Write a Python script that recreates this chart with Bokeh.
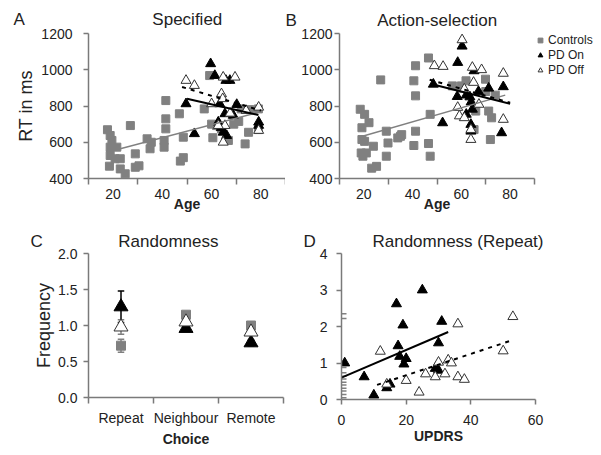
from bokeh.plotting import figure
from bokeh.models import (FixedTicker, Legend, LegendItem, NumeralTickFormatter, Range1d)
from bokeh.layouts import row, column
from bokeh.embed import file_html
from bokeh.resources import INLINE

# ---------------- data ----------------
# Panel A (Specified): age vs RT (ms)
a_ctrl_age = [17.7, 18.8, 19.5, 18.8, 21.5, 18.8, 18.5, 20.8, 22.9, 22.9, 24.9, 27, 29, 29, 30.5,
              33.8, 35, 35.5, 40.7, 40.7, 41.4, 41.4, 41.4, 46.9, 47.3, 48.5, 48.5, 57, 59.2, 60,
              62, 64, 66.8, 69, 71, 72, 73.6, 75, 75.5, 79, 79, 60.5]
a_ctrl_rt = [669, 637, 610, 573, 573, 527, 468, 509, 509, 453, 426, 692, 536, 462, 470,
             619, 564, 600, 610, 573, 729, 674, 830, 757, 496, 515, 628, 784, 968, 700,
             692, 673, 610, 700, 715, 784, 591, 655, 780, 784, 670, 625]
a_on_age = [59.6, 61.3, 67.4, 65.8, 49.6, 53, 63.3, 70.2, 68.8, 62.7, 65.4, 64.7, 66.1, 63.9, 79.1, 79.1]
a_on_rt = [1033, 968, 941, 941, 812, 647, 812, 808, 748, 711, 757, 655, 637, 680, 711, 693]
a_off_age = [49.6, 53, 64.7, 69.5, 64, 64.5, 60, 79.1, 74, 65.4, 62.7, 64.7, 79.1, 67.5]
a_off_rt = [941, 913, 959, 959, 867, 840, 812, 793, 775, 692, 692, 600, 665, 760]
a_fit_ctrl_x = [17.5, 79]
a_fit_ctrl_y = [545, 765]
a_fit_on_x = [50, 79]
a_fit_on_y = [840, 750]
a_fit_off_x = [48, 80]
a_fit_off_y = [905, 775]

# Panel B (Action-selection)
b_ctrl_age = [18.5, 20.3, 19.2, 22.1, 19.2, 20.3, 18.9, 19.6, 21, 23.9, 23.2, 25.2, 26.9, 29.2, 29.9,
              29.2, 33.9, 35, 35.5, 40.5, 41.2, 41.2, 41.2, 40.5, 46.5, 46.5, 47.2, 47.2, 56.3, 61.9,
              60, 65.9, 65.2, 69.9, 70, 71.2, 72.4, 73.9, 71.9]
b_ctrl_rt = [782, 754, 680, 708, 615, 605, 541, 523, 541, 578, 457, 467, 944, 661, 596,
             523, 624, 633, 642, 939, 1022, 856, 661, 582, 1065, 593, 754, 523, 911, 939,
             911, 772, 670, 948, 880, 772, 735, 860, 615]
b_on_age = [60.3, 58.5, 65.2, 48.5, 52.3, 58.3, 62, 63.5, 64, 64.5, 62, 63.9, 63.9, 71.2, 77.2, 76.5, 67]
b_on_rt = [1130, 1040, 994, 920, 707, 852, 860, 850, 822, 782, 754, 698, 661, 898, 906, 652, 880]
b_off_age = [60.3, 48.9, 52.5, 64.5, 68.3, 65, 77.2, 61.2, 58.5, 59.2, 61.2, 67.2, 63.9, 63.9, 77.2]
b_off_rt = [1165, 1022, 1018, 1013, 1000, 930, 980, 893, 792, 745, 735, 809, 670, 615, 726]
b_fit_ctrl_x = [18, 78]
b_fit_ctrl_y = [628, 860]
b_fit_on_x = [48, 80]
b_fit_on_y = [920, 812]
b_fit_off_x = [47, 80]
b_fit_off_y = [945, 818]

# Panel C (Randomness)
choices = ["Repeat", "Neighbour", "Remote"]
c_ctrl = [0.72, 1.15, 1.00]
c_ctrl_err = [0.09, 0.03, 0.03]
c_on = [1.26, 0.96, 0.76]
c_on_err = [0.22, 0.03, 0.04]
c_off = [0.98, 1.05, 0.91]
c_off_err = [0.10, 0.04, 0.03]

# Panel D (Randomness (Repeat)) : UPDRS vs frequency
d_ctrl_updrs = [0, 0, 0, 0, 0, 0, 0, 0, 0, 0, 0, 0]
d_ctrl_freq = [0.05, 0.14, 0.23, 0.31, 0.4, 0.47, 0.56, 0.64, 0.73, 0.88, 2.22, 2.35]
d_on_updrs = [1, 7, 10, 14, 15, 17, 17.5, 18, 19, 19.3, 20, 25, 29, 30, 30, 31]
d_on_freq = [1.0, 0.62, 0.12, 0.32, 0.42, 2.62, 1.47, 1.18, 2.04, 0.97, 1.12, 3.0, 0.85, 0.8, 1.55, 2.14]
d_off_updrs = [12, 14, 20, 24, 26, 29, 30, 32, 33, 34, 36, 36, 38, 50, 53]
d_off_freq = [1.32, 0.42, 0.52, 0.2, 0.7, 0.62, 1.02, 0.7, 1.08, 1.0, 2.07, 0.62, 0.55, 1.33, 2.27]
d_fit_on_x = [0, 33]
d_fit_on_y = [0.6, 1.85]
d_fit_off_x = [11, 53]
d_fit_off_y = [0.4, 1.63]

legend_labels = ["Controls", "PD On", "PD Off"]
age_ticks = [20, 40, 60, 80]
age_seps = [10, 30, 50, 70, 90]
rt_ticks = [400, 600, 800, 1000, 1200]
freq_ticks = [0.0, 0.5, 1.0, 1.5, 2.0]
d_y_ticks = [0, 1, 2, 3, 4]
d_x_ticks = [0, 20, 40, 60]

# ---------------- style ----------------
FONT = "Liberation Sans"
TXT = "#222222"
AX = "#7a7a7a"
CTRL = "#808080"
OFF_LINE = "#333333"
NB = "\u00a0"


def make_fig(fw, fh, left, right, top, bottom, xr, yr, letter, gap, title, offset, standoff):
    p = figure(frame_width=fw, frame_height=fh, min_border_left=left, min_border_right=right,
               min_border_top=top, min_border_bottom=bottom,
               x_range=Range1d(*xr), y_range=Range1d(*yr),
               output_backend="svg", toolbar_location=None)
    p.outline_line_color = None
    p.xgrid.grid_line_color = None
    p.ygrid.grid_line_color = None
    p.background_fill_color = "white"
    p.border_fill_color = "white"
    p.title.text = letter + NB * gap + title
    p.title.align = "left"
    p.title.offset = offset
    p.title.text_font = FONT
    p.title.text_font_size = "17px"
    p.title.text_font_style = "normal"
    p.title.text_color = TXT
    p.title.standoff = standoff
    for ax in (p.xaxis[0], p.yaxis[0]):
        ax.axis_line_color = AX
        ax.axis_line_width = 1.5
        ax.major_tick_line_color = AX
        ax.major_tick_line_width = 1.5
        ax.minor_tick_line_color = AX
        ax.minor_tick_line_width = 1.5
        ax.major_tick_in = 0
        ax.major_tick_out = 5
        ax.minor_tick_in = 0
        ax.minor_tick_out = 0
        ax.major_label_text_font = FONT
        ax.major_label_text_font_size = "14px"
        ax.major_label_text_color = TXT
        ax.axis_label_text_font = FONT
        ax.axis_label_text_color = TXT
    return p


def age_axes(p, ylabel, ystandoff):
    p.xaxis.ticker = FixedTicker(ticks=age_ticks, minor_ticks=age_seps)
    p.xaxis.major_tick_out = 0
    p.xaxis.minor_tick_out = 6
    p.xaxis.major_label_standoff = 4
    p.xaxis.axis_label = "Age"
    p.xaxis.axis_label_text_font_style = "bold"
    p.xaxis.axis_label_text_font_size = "14px"
    p.xaxis.axis_label_standoff = -6
    p.yaxis.ticker = FixedTicker(ticks=rt_ticks)
    p.yaxis.major_label_standoff = ystandoff
    if ylabel:
        p.yaxis.axis_label = ylabel
        p.yaxis.axis_label_text_font_style = "normal"
        p.yaxis.axis_label_text_font_size = "18px"
        p.yaxis.axis_label_standoff = 2


def scatter_groups(p, cx, cy, ox, oy, fx, fy):
    r1 = p.scatter(cx, cy, marker="square", size=8, fill_color=CTRL, line_color=CTRL)
    r2 = p.scatter(ox, oy, marker="triangle", size=10, fill_color="black", line_color="black")
    r3 = p.scatter(fx, fy, marker="triangle", size=10, fill_color="white", line_color=OFF_LINE,
                   line_width=1)
    return r1, r2, r3


# ---------------- Panel A ----------------
pA = make_fig(197, 145, 88, 0, 33, 44, (10, 90), (400, 1200), "A", 27, "Specified", -75, 9)
age_axes(pA, "RT in ms", 11)
scatter_groups(pA, a_ctrl_age, a_ctrl_rt, a_on_age, a_on_rt, a_off_age, a_off_rt)
pA.line(a_fit_ctrl_x, a_fit_ctrl_y, line_color=CTRL, line_width=1.5)
pA.line(a_fit_on_x, a_fit_on_y, line_color="black", line_width=2)
pA.line(a_fit_off_x, a_fit_off_y, line_color="black", line_width=2, line_dash="4 5")

# ---------------- Panel B ----------------
pB = make_fig(195, 145, 54, 62, 33, 44, (10, 90), (400, 1200), "B", 17, "Action-selection", -54, 8)
age_axes(pB, None, 2)
rends = scatter_groups(pB, b_ctrl_age, b_ctrl_rt, b_on_age, b_on_rt, b_off_age, b_off_rt)
pB.line(b_fit_ctrl_x, b_fit_ctrl_y, line_color=CTRL, line_width=1.5)
pB.line(b_fit_on_x, b_fit_on_y, line_color="black", line_width=2)
pB.line(b_fit_off_x, b_fit_off_y, line_color="black", line_width=2, line_dash="4 5")
legend = Legend(items=[LegendItem(label=lab, renderers=[r])
                       for lab, r in zip(legend_labels, rends)],
                location="top_left", padding=0, margin=0, spacing=1,
                glyph_width=12, glyph_height=14, label_height=14, label_standoff=2,
                label_text_font=FONT, label_text_font_size="12px", label_text_color=TXT,
                background_fill_alpha=0, border_line_color=None)
pB.add_layout(legend, "right")

# ---------------- Panel C ----------------
cx = [i + 0.5 for i in range(len(choices))]
pC = make_fig(195, 144, 88, 13, 31, 50, (0, len(choices)), (0, 2), "C", 16, "Randomness", -58, 5)
pC.xaxis.ticker = FixedTicker(ticks=cx, minor_ticks=list(range(len(choices) + 1)))
pC.xaxis.major_label_overrides = {x: c for x, c in zip(cx, choices)}
pC.xaxis.major_tick_out = 0
pC.xaxis.minor_tick_out = 6
pC.xaxis.major_label_standoff = 6
pC.xaxis.axis_label = "Choice"
pC.xaxis.axis_label_text_font_style = "bold"
pC.xaxis.axis_label_text_font_size = "14px"
pC.xaxis.axis_label_standoff = 2
pC.yaxis.ticker = FixedTicker(ticks=freq_ticks)
pC.yaxis.formatter = NumeralTickFormatter(format="0.0")
pC.yaxis.major_label_standoff = 6
pC.yaxis.axis_label = "Frequency"
pC.yaxis.axis_label_text_font_style = "normal"
pC.yaxis.axis_label_text_font_size = "18px"
pC.yaxis.axis_label_standoff = 1
cap = 0.05
for means, errs, col in ((c_ctrl, c_ctrl_err, CTRL), (c_off, c_off_err, CTRL), (c_on, c_on_err, "black")):
    lo = [m - e for m, e in zip(means, errs)]
    hi = [m + e for m, e in zip(means, errs)]
    pC.segment(cx, lo, cx, hi, line_color=col, line_width=1.5)
    pC.segment([x - cap for x in cx], hi, [x + cap for x in cx], hi, line_color=col, line_width=1.5)
    pC.segment([x - cap for x in cx], lo, [x + cap for x in cx], lo, line_color=col, line_width=1.5)
pC.scatter(cx, c_ctrl, marker="square", size=9, fill_color=CTRL, line_color=CTRL)
pC.scatter(cx, c_on, marker="triangle", size=14, fill_color="black", line_color="black")
pC.scatter(cx, c_off, marker="triangle", size=14, fill_color="white", line_color=OFF_LINE)

# ---------------- Panel D ----------------
pD = make_fig(194, 146, 45, 58, 30, 49, (0, 60), (0, 4), "D", 12, "Randomness (Repeat)", -38, 6)
pD.xaxis.ticker = FixedTicker(ticks=d_x_ticks)
pD.xaxis.major_label_standoff = 10
pD.xaxis.axis_label = "UPDRS"
pD.xaxis.axis_label_text_font_style = "bold"
pD.xaxis.axis_label_text_font_size = "14px"
pD.xaxis.axis_label_standoff = 0
pD.yaxis.ticker = FixedTicker(ticks=d_y_ticks)
pD.yaxis.major_label_standoff = 9
pD.scatter(d_ctrl_updrs, d_ctrl_freq, marker="dash", size=10, line_color=CTRL, line_width=1.5)
pD.scatter(d_on_updrs, d_on_freq, marker="triangle", size=10, fill_color="black", line_color="black")
pD.scatter(d_off_updrs, d_off_freq, marker="triangle", size=10, fill_color="white",
           line_color=OFF_LINE, line_width=1)
pD.line(d_fit_on_x, d_fit_on_y, line_color="black", line_width=2)
pD.line(d_fit_off_x, d_fit_off_y, line_color="black", line_width=2, line_dash="4 5")

layout = column(row(pA, pB), row(pC, pD))
open("out.html", "w").write(file_html(layout, INLINE))
